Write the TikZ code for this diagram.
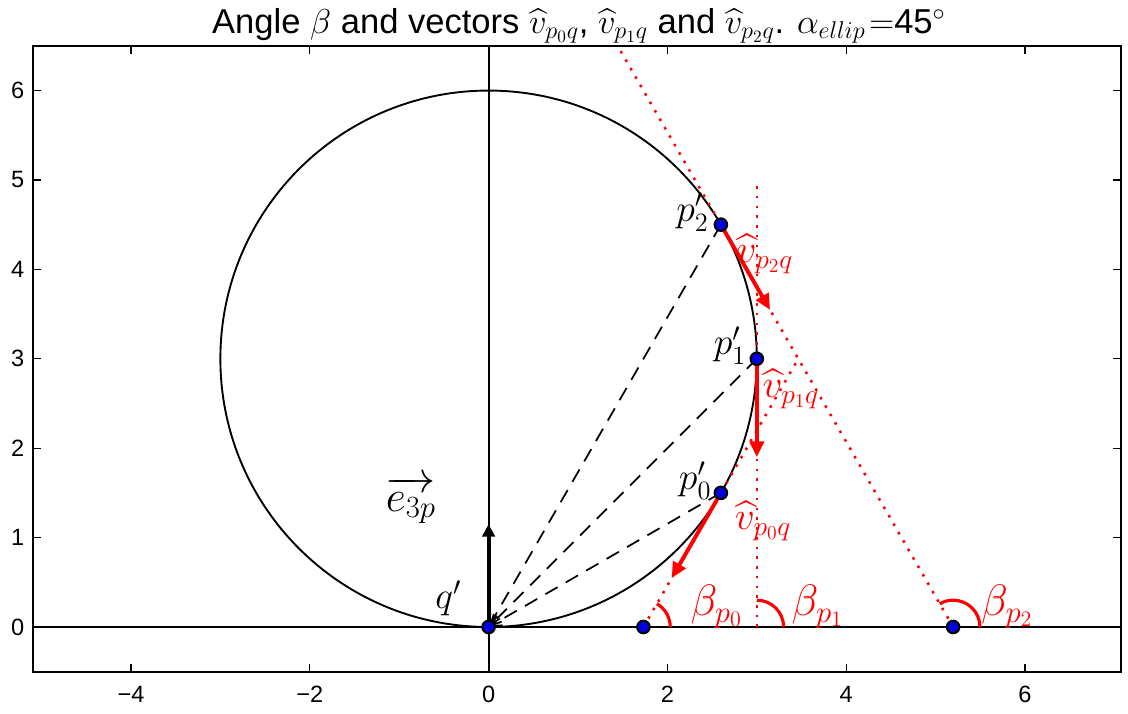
\RequirePackage{fix-cm}
\documentclass[tikz,border=0pt]{standalone}
\usepackage{fontspec}
\setmainfont{Liberation Sans}
\usepackage{amsmath}
\usetikzlibrary{arrows.meta, calc}
\definecolor{PlotRed}{HTML}{FF0000}
\definecolor{DotBlue}{HTML}{0000E0}

\begin{document}
\begin{tikzpicture}[
  x=2cm, y=2cm,
  frame/.style={line width=1.2pt},
  axisline/.style={line width=1.2pt},
  tickmark/.style={line width=0.8pt},
  ticklbl/.style={font=\fontsize{15}{15}\selectfont, inner sep=0pt},
  chord/.style={line width=1.1pt, dash pattern=on 9pt off 6pt,
                -{Straight Barb[length=7pt,width=7pt]}},
  tangent/.style={PlotRed, line width=1.6pt, dash pattern=on 1.6pt off 4.6pt},
  vec/.style={PlotRed, line width=2.5pt, -{Triangle[length=10pt,width=9pt]}},
  basevec/.style={black, line width=2.5pt, -{Triangle[length=8pt,width=8pt]}},
  betaarc/.style={PlotRed, line width=2pt},
  pt/.style={circle, draw=black, fill=DotBlue, line width=1.3pt,
             inner sep=0pt, minimum size=8pt},
  lbl/.style={font=\fontsize{24}{24}\selectfont, inner sep=0pt},
  redlbl/.style={font=\fontsize{25}{25}\selectfont, inner sep=0pt, PlotRed},
  biglbl/.style={font=\fontsize{28}{28}\selectfont, inner sep=0pt},
]
\useasboundingbox (-5.465,-0.962) rectangle (7.152,7.013);

% points of the construction
\coordinate (q) at (0,0);
\coordinate (p0) at (2.598,1.5);
\coordinate (p1) at (3,3);
\coordinate (p2) at (2.598,4.5);
\coordinate (t0) at (1.732,0);
\coordinate (t1) at (3,0);
\coordinate (t2) at (5.196,0);
\coordinate (t0end) at (3.464,3);
\coordinate (t1end) at (3,5);
\coordinate (t2end) at (1.443,6.5);
\coordinate (v0) at (2.048,0.547);
\coordinate (v1) at (3,1.9);
\coordinate (v2) at (3.148,3.547);
\coordinate (e3p) at (0,1.15);

% circle and axes
\draw[line width=1.2pt] (0,3) circle[radius=3];
\draw[axisline] (-5.1,0) -- (7.07,0);
\draw[axisline] (0,-0.5) -- (0,6.5);

% chords from the points to q
\foreach \p in {p0,p1,p2}
  \draw[chord] (\p) -- (q);

% tangent lines down to the x axis
\draw[tangent] (t0) -- (t0end);
\draw[tangent] (t1) -- (t1end);
\draw[tangent] (t2) -- (t2end);

% angles beta
\draw[betaarc] ($(t0)+(0.3,0)$) arc[start angle=0, end angle=60, radius=0.3];
\draw[betaarc] ($(t1)+(0.3,0)$) arc[start angle=0, end angle=90, radius=0.3];
\draw[betaarc] ($(t2)+(0.3,0)$) arc[start angle=0, end angle=120, radius=0.3];

% unit vectors
\draw[vec] (p0) -- (v0);
\draw[vec] (p1) -- (v1);
\draw[vec] (p2) -- (v2);
\draw[basevec] (q) -- (e3p);

% markers
\foreach \p in {q,p0,p1,p2,t0,t2}
  \node[pt] (dot-\p) at (\p) {};

% labels
\node[lbl] (lq) at (-0.45,0.32) {$q'$};
\node[biglbl] (le) at (-0.87,1.42) {$\overrightarrow{e_{3p}}$};
\node[lbl] (lp0) at (2.31,1.64) {$p_0'$};
\node[lbl] (lp1) at (2.70,3.15) {$p_1'$};
\node[lbl] (lp2) at (2.28,4.64) {$p_2'$};
\node[redlbl] (lv0) at (3.07,1.19) {$\widehat{v}_{p_0q}$};
\node[redlbl] (lv1) at (3.38,2.66) {$\widehat{v}_{p_1q}$};
\node[redlbl] (lv2) at (3.09,4.17) {$\widehat{v}_{p_2q}$};
\node[biglbl, PlotRed] (lb0) at (2.55,0.23) {$\beta_{p_0}$};
\node[biglbl, PlotRed] (lb1) at (3.68,0.23) {$\beta_{p_1}$};
\node[biglbl, PlotRed] (lb2) at (5.80,0.23) {$\beta_{p_2}$};

% frame and ticks
\draw[frame] (-5.1,-0.5) rectangle (7.07,6.5);
\foreach \x in {-4,-2,0,2,4,6} {
  \draw[tickmark] (\x,-0.5) -- ++(0,0.09);
  \draw[tickmark] (\x,6.5) -- ++(0,-0.09);
  \node[ticklbl, anchor=base] (xl\x) at (\x,-0.85)
    {\ifnum\x<0 −\number-\x\else\x\fi};
}
\foreach \y in {0,...,6} {
  \draw[tickmark] (-5.1,\y) -- ++(0.09,0);
  \draw[tickmark] (7.07,\y) -- ++(-0.09,0);
  \node[ticklbl, anchor=east] (yl\y) at (-5.19,\y) {\y};
}

% title
\node[font=\fontsize{22}{22}\selectfont, anchor=base, inner sep=0pt] (title)
  at (1.01,6.64)
  {Angle $\beta$ and vectors $\widehat{v}_{p_0q}$, $\widehat{v}_{p_1q}$ and
   $\widehat{v}_{p_2q}$. $\alpha_{ellip}\!=$45$^\circ$};

\end{tikzpicture}
\end{document}
